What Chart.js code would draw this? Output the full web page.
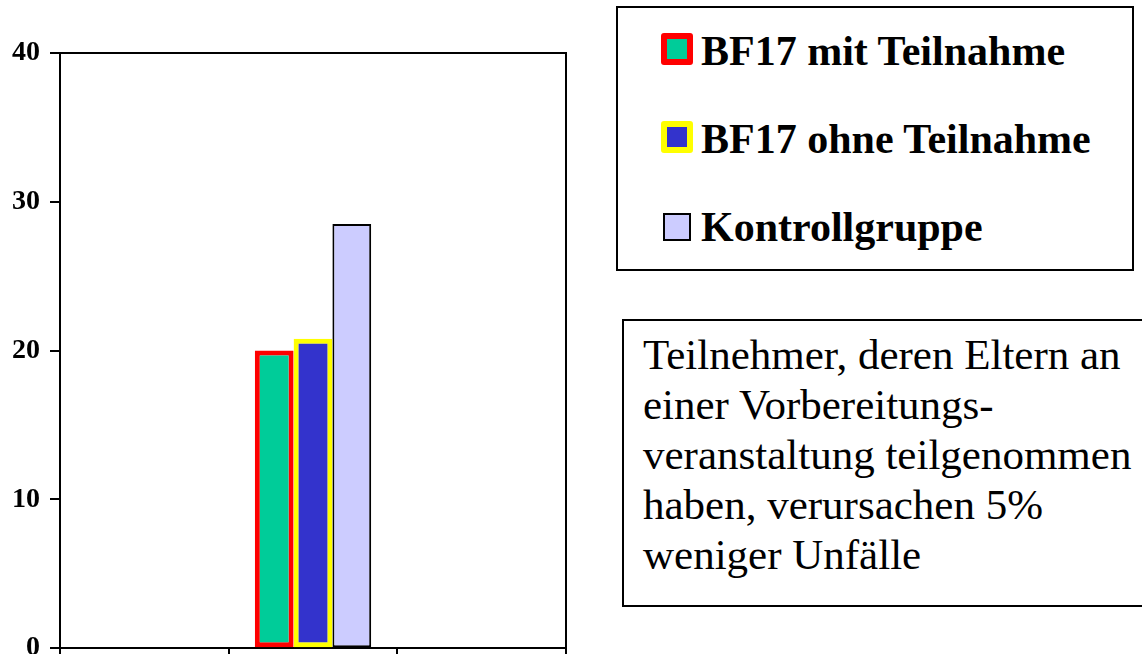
<!DOCTYPE html>
<html lang="de">
<head>
<meta charset="UTF-8">
<title>BF17 Unfälle</title>
<script src="https://cdn.jsdelivr.net/npm/chart.js"></script>
<style>
  html, body { margin: 0; padding: 0; background: #fff; overflow: hidden; }
  #wrap { position: relative; width: 1142px; height: 654px; overflow: hidden; }
  #chart { position: absolute; left: 0; top: 0; }
  #legend {
    position: absolute; left: 616px; top: 6px; width: 514px; height: 261px;
    border: 2px solid #000; background: #fff;
  }
  .sw { position: absolute; box-sizing: border-box; }
  .lt {
    position: absolute; left: 83px; white-space: nowrap;
    font: bold 42px 'Liberation Serif', 'Times New Roman', serif; line-height: 42px; color: #000;
  }
  #note {
    position: absolute; left: 622px; top: 319px; width: 560px; height: 288px;
    border: 2px solid #000; background: #fff;
    font: 43px 'Liberation Serif', 'Times New Roman', serif; line-height: 50px; color: #000;
    padding: 9px 0 0 19px; box-sizing: border-box; white-space: nowrap;
  }
</style>
</head>
<body>
<div id="wrap">
  <canvas id="chart" width="1142" height="675"></canvas>
  <div id="legend"></div>
  <div id="note">Teilnehmer, deren Eltern an<br>einer Vorbereitungs-<br>veranstaltung teilgenommen<br>haben, verursachen 5%<br>weniger Unfälle</div>
</div>

<script>
// data
const categories = ['', '', ''];
const seriesNames = ['BF17 mit Teilnahme', 'BF17 ohne Teilnahme', 'Kontrollgruppe'];
const mitTeilnahme = [null, 20.0, null];
const ohneTeilnahme = [null, 20.8, null];
const kontrollgruppe = [null, 28.5, null];
const yTicks = [0, 10, 20, 30, 40];

// styles
const fills = ['#00CC99', '#3333CC', '#CCCCFF'];
const borders = ['#FF0000', '#FFFF00', '#000000'];
const borderWidths = [5, 5, 2];

const seriesData = [mitTeilnahme, ohneTeilnahme, kontrollgruppe];

const plotFrame = {
    id: 'plotFrame',
    afterDraw(chart) {
        const a = chart.chartArea;
        const ctx = chart.ctx;
        ctx.save();
        ctx.strokeStyle = '#000';
        ctx.lineWidth = 2;
        ctx.beginPath();
        ctx.moveTo(a.left, a.top);
        ctx.lineTo(a.right, a.top);
        ctx.lineTo(a.right, a.bottom);
        ctx.stroke();
        ctx.restore();
    }
};

new Chart(document.getElementById('chart'), {
    type: 'bar',
    data: {
        labels: categories,
        datasets: seriesData.map((d, i) => ({
            label: seriesNames[i],
            data: d,
            backgroundColor: fills[i],
            borderColor: borders[i],
            borderWidth: borderWidths[i],
            borderSkipped: false,
            categoryPercentage: 0.69,
            barPercentage: 1.0
        }))
    },
    options: {
        responsive: false,
        animation: false,
        layout: { padding: { top: 53, right: 576, left: 0, bottom: 0 } },
        plugins: { legend: { display: false }, tooltip: { enabled: false } },
        scales: {
            x: {
                afterFit(scale) { scale.height = 5; },
                grid: { offset: true, drawOnChartArea: false, drawTicks: true, tickLength: 8, color: '#000', lineWidth: 2 },
                border: { display: true, color: '#000', width: 2 },
                ticks: { display: false }
            },
            y: {
                min: 0,
                max: 40,
                afterFit(scale) { scale.width = 60; },
                afterBuildTicks(scale) { scale.ticks = yTicks.map(v => ({ value: v })); },
                grid: { drawOnChartArea: false, drawTicks: true, tickLength: 10, color: '#000', lineWidth: 2 },
                border: { display: true, color: '#000', width: 2 },
                ticks: {
                    padding: 10,
                    color: '#000',
                    font: { family: "'Liberation Serif', 'Times New Roman', serif", size: 28, weight: 'bold' }
                }
            }
        }
    },
    plugins: [plotFrame]
});

// legend box built from the series
const legend = document.getElementById('legend');
const swatchBox = [
    { left: 43, top: 25, size: 32 },
    { left: 43, top: 113, size: 32 },
    { left: 45, top: 205, size: 28 }
];
seriesNames.forEach((name, i) => {
    const sw = document.createElement('div');
    sw.className = 'sw';
    const b = swatchBox[i];
    sw.style.left = b.left + 'px';
    sw.style.top = b.top + 'px';
    sw.style.width = b.size + 'px';
    sw.style.height = b.size + 'px';
    sw.style.background = fills[i];
    sw.style.border = (i < 2 ? 6 : 2) + 'px solid ' + borders[i];
    sw.style.borderRadius = i < 2 ? '3px' : '0';
    legend.appendChild(sw);
    const t = document.createElement('div');
    t.className = 'lt';
    t.style.top = (22 + i * 88) + 'px';
    t.textContent = name;
    legend.appendChild(t);
});
</script>
</body>
</html>
